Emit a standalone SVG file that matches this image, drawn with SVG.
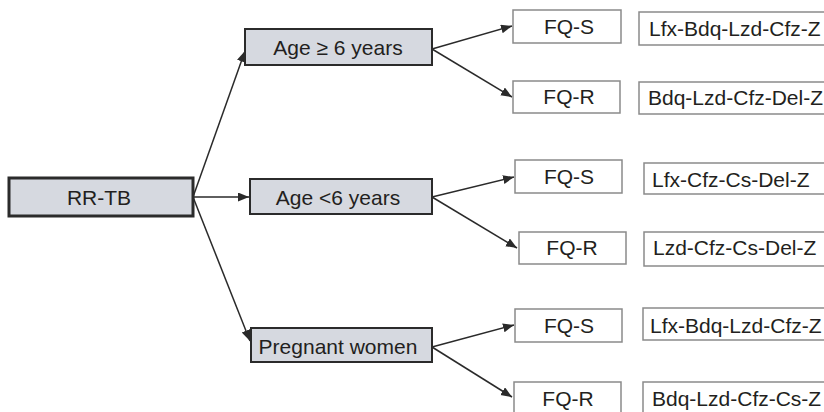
<svg xmlns="http://www.w3.org/2000/svg" width="824" height="412" viewBox="0 0 824 412">
<defs>
<marker id="ah" markerUnits="userSpaceOnUse" markerWidth="12" markerHeight="10" refX="11" refY="4.5" orient="auto">
<path d="M0,0 L11,4.5 L0,9 Z" fill="#2a2a2a"/>
</marker>
<style>
text{font-family:"Liberation Sans",Arial,sans-serif;font-size:21px;fill:#231f20}
.g{fill:#d6d9e0;stroke:#2b2b2b;stroke-width:2}
.w{fill:#ffffff;stroke:#8a8a8a;stroke-width:1.5}
.c line{stroke:#2a2a2a;stroke-width:1.5;marker-end:url(#ah)}
.m{text-anchor:middle}
</style>
</defs>
<rect width="824" height="412" fill="#ffffff"/>
<g class="c" id="connectors">
<line x1="193" y1="197" x2="245" y2="51"/>
<line x1="193" y1="197" x2="249" y2="197"/>
<line x1="193" y1="197" x2="250" y2="341"/>
<line x1="432" y1="49" x2="512" y2="26"/>
<line x1="432" y1="49" x2="512" y2="97"/>
<line x1="432" y1="197" x2="514" y2="177"/>
<line x1="432" y1="197" x2="517" y2="248"/>
<line x1="432" y1="347" x2="514" y2="325"/>
<line x1="432" y1="347" x2="512" y2="397"/>
</g>
<g id="rrtb"><rect class="g" x="9" y="178" width="184" height="38" style="stroke-width:3"/><text class="m" x="99" y="204.5">RR-TB</text></g>
<g id="age6plus"><rect class="g" x="245" y="29" width="187" height="36"/><text class="m" x="338" y="55">Age ≥ 6 years</text></g>
<g id="age6minus"><rect class="g" x="250" y="179" width="182" height="35"/><text class="m" x="338" y="205">Age &lt;6 years</text></g>
<g id="pregnant"><rect class="g" x="251" y="328" width="181" height="34"/><text class="m" x="338" y="354">Pregnant women</text></g>
<g id="fqs1"><rect class="w" x="513" y="10" width="108" height="33"/><text class="m" x="569" y="34">FQ-S</text></g>
<g id="reg1"><rect class="w" x="639" y="12" width="195" height="33"/><text x="649" y="36">Lfx-Bdq-Lzd-Cfz-Z</text></g>
<g id="fqr1"><rect class="w" x="513" y="81" width="107" height="32"/><text class="m" x="569" y="104">FQ-R</text></g>
<g id="reg2"><rect class="w" x="639" y="82" width="195" height="32"/><text x="648" y="105">Bdq-Lzd-Cfz-Del-Z</text></g>
<g id="fqs2"><rect class="w" x="515" y="160" width="107" height="33"/><text class="m" x="569" y="184">FQ-S</text></g>
<g id="reg3"><rect class="w" x="644" y="163" width="195" height="31"/><text x="652" y="187">Lfx-Cfz-Cs-Del-Z</text></g>
<g id="fqr2"><rect class="w" x="519" y="232" width="107" height="32"/><text class="m" x="572" y="255">FQ-R</text></g>
<g id="reg4"><rect class="w" x="644" y="232" width="195" height="34"/><text x="653" y="255">Lzd-Cfz-Cs-Del-Z</text></g>
<g id="fqs3"><rect class="w" x="515" y="309" width="107" height="33"/><text class="m" x="569" y="333">FQ-S</text></g>
<g id="reg5"><rect class="w" x="643" y="308" width="195" height="32"/><text x="650" y="333">Lfx-Bdq-Lzd-Cfz-Z</text></g>
<g id="fqr3"><rect class="w" x="514" y="382" width="107" height="36"/><text class="m" x="568" y="406">FQ-R</text></g>
<g id="reg6"><rect class="w" x="643" y="382" width="195" height="36"/><text x="652" y="406">Bdq-Lzd-Cfz-Cs-Z</text></g>
</svg>
